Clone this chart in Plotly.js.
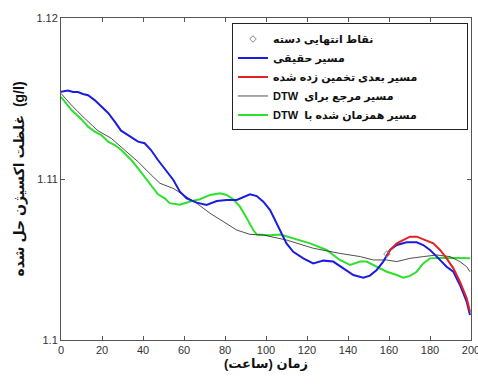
<!DOCTYPE html>
<html><head><meta charset="utf-8">
<script src="https://cdn.plot.ly/plotly-3.0.1.min.js"></script>
<style>html,body{margin:0;padding:0;background:#fff;}#c{width:478px;height:387px;}</style>
</head><body><div id="c"></div>
<script>
// Actual path (blue)
const tBlue = [0,3.4,5.9,8.3,10.7,13.2,16.4,19.6,23,26.2,29.3,32.7,37.6,40.8,43.9,47.3,50.6,54.8,58,61.3,66.2,71,76,80.8,85.7,89,92.2,95.5,98.7,102,103.6,106.8,110,113.3,118.2,123,128,132.8,137.7,142.6,147.5,150.7,154,157.2,160.5,163.8,168.6,173.5,176.7,180,183.3,188.1,191.4,194.6,197.9,199.5];
const vBlue = [1.11542,1.1155,1.1154,1.1154,1.11528,1.1152,1.1149,1.1145,1.1141,1.11356,1.1130,1.11273,1.11232,1.11222,1.1118,1.11118,1.11066,1.10994,1.10921,1.1088,1.10853,1.10839,1.10863,1.1087,1.1087,1.1089,1.10905,1.10894,1.10859,1.10807,1.10766,1.10683,1.1060,1.10548,1.10507,1.10476,1.10493,1.10487,1.10445,1.10404,1.10387,1.10400,1.10435,1.10487,1.10559,1.1059,1.10607,1.10607,1.1059,1.10559,1.10518,1.10455,1.10424,1.10342,1.10238,1.10155];
// Estimated next path (red)
const tRed = [158.9,160.5,163.8,167,170.2,173.5,178.4,181.6,184.9,188.1,191.4,194.6,197.9,199.5];
const vRed = [1.10518,1.10559,1.1060,1.10621,1.10642,1.10642,1.10617,1.1060,1.10559,1.10507,1.10445,1.10362,1.10259,1.10176];
// Reference path for DTW (black)
const tRef = [0,5,11.5,18,24.5,31,37.6,44,48.3,54.7,61.3,66.2,72.7,79.2,85.7,92.2,98.7,110,123,136,146,152.4,158.9,163.8,170.2,176.7,183.3,189.8,194.6,197.9,199.5];
const vRef = [1.11532,1.1146,1.11377,1.1130,1.11253,1.1118,1.11107,1.11025,1.10973,1.10942,1.1089,1.10849,1.10787,1.10735,1.10683,1.10656,1.10652,1.10621,1.1057,1.10538,1.10518,1.10497,1.10497,1.10487,1.10507,1.10518,1.10528,1.10518,1.10487,1.10455,1.10424];
// DTW-synchronized path (green)
const tSync = [0,5,10,13.2,16.4,19.7,23,26.2,29.4,34.3,37.6,40.8,44,47.3,50.6,53,58,63,67.8,72.7,77.6,80.8,84,87.3,90.6,93.8,95.5,102,107,113,121.5,129.6,136,141,145.9,149,154,158.9,163.8,167,170.2,173.5,176.7,180,186.5,194.6,199.5];
const vSync = [1.1151,1.1143,1.1137,1.11325,1.11294,1.11273,1.11232,1.11211,1.1118,1.11118,1.11066,1.11015,1.10965,1.10905,1.1088,1.1085,1.1084,1.1086,1.10874,1.10901,1.10911,1.10901,1.10874,1.10828,1.10756,1.10683,1.10655,1.1065,1.10655,1.10632,1.1060,1.10559,1.10497,1.10466,1.10487,1.10487,1.10455,1.10424,1.10404,1.10387,1.10398,1.10424,1.10476,1.10507,1.10511,1.10507,1.10507];
// Batch end points (diamond)
const tEnd = [159];
const vEnd = [1.10534];

const legendNames = ['نقاط انتهایی دسته','مسیر حقیقی','مسیر بعدی تخمین زده شده','DTW  مسیر مرجع برای','DTW  مسیر همزمان شده با'];
const xTicks = [0,20,40,60,80,100,120,140,160,180,200];
const yTicks = [1.1,1.11,1.12];
const yTickText = ['1.1','1.11','1.12'];
const xTitle = 'زمان (ساعت)\u200F';
const yTitle = 'غلظت اکسیژن حل شده  (g/l)';

const FONT = 'Liberation Sans, Arial, DejaVu Sans, sans-serif';
const tEndTrace = {x:tEnd,y:vEnd,name:legendNames[0],mode:'markers',legendrank:1,
  marker:{symbol:'diamond-open',size:5,color:'#888',line:{width:1,color:'#888'}}};
const tBlueTrace = {x:tBlue,y:vBlue,name:legendNames[1],mode:'lines',legendrank:2,line:{color:'#1c1ce0',width:2}};
const tRedTrace = {x:tRed,y:vRed,name:legendNames[2],mode:'lines',legendrank:3,line:{color:'#e42020',width:2}};
const tRefTrace = {x:tRef,y:vRef,name:legendNames[3],mode:'lines',legendrank:4,line:{color:'#222',width:0.8}};
const tSyncTrace = {x:tSync,y:vSync,name:legendNames[4],mode:'lines',legendrank:5,line:{color:'#2ee02e',width:2}};
const plotTraces = [tSyncTrace,tRefTrace,tBlueTrace,tRedTrace,tEndTrace];

const layout = {
  width:478,height:387,
  margin:{l:61,r:7,t:18,b:47},
  paper_bgcolor:'#fff',plot_bgcolor:'#fff',
  font:{family:FONT,size:11,color:'#333'},
  showlegend:true,
  legend:{x:0.417,y:0.983,xanchor:'left',yanchor:'top',bgcolor:'#fff',bordercolor:'#222',borderwidth:1,
    orientation:'h',entrywidthmode:'pixels',entrywidth:189,traceorder:'normal',
    font:{family:FONT,size:11,color:'#111',weight:'bold'},itemwidth:30,tracegroupgap:0},
  xaxis:{range:[0,200],tickvals:xTicks,ticks:'inside',ticklen:4,tickcolor:'#555',showgrid:false,zeroline:false,
    showline:true,linecolor:'#555',linewidth:1,mirror:'ticks',ticklabeloverflow:'allow',
    tickfont:{family:FONT,size:11,color:'#333'},
    title:{text:xTitle,font:{family:FONT,size:13,color:'#111',weight:'bold'},standoff:2}},
  yaxis:{range:[1.1,1.12],tickvals:yTicks,ticktext:yTickText,ticks:'inside',ticklen:4,tickcolor:'#555',showgrid:false,zeroline:false,
    showline:true,linecolor:'#555',linewidth:1,mirror:'ticks',
    tickfont:{family:FONT,size:11,color:'#333'},
    title:{text:yTitle,font:{family:FONT,size:14,color:'#111',weight:'bold'},standoff:8}}
};
Plotly.newPlot('c',plotTraces,layout,{displayModeBar:false,staticPlot:true});
</script>
</body></html>
